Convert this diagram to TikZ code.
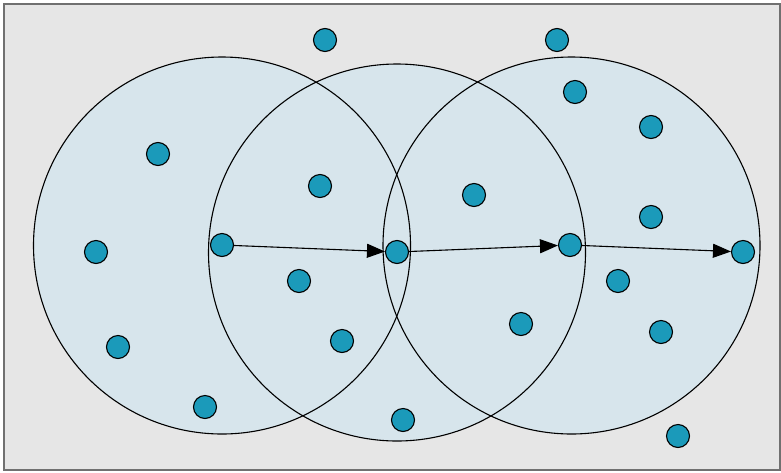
\documentclass[tikz,border=0pt]{standalone}
\usepackage{tikz}
\usetikzlibrary{arrows.meta, positioning}
\definecolor{bgGray}{RGB}{230,230,230}
\definecolor{frameGray}{RGB}{112,112,112}
\definecolor{zoneBlue}{RGB}{215,229,236}
\definecolor{dotTeal}{RGB}{27,154,186}

\begin{document}
\begin{tikzpicture}[
  x=1pt, y=-1pt,
  dot/.style={
    circle, draw=black, fill=dotTeal,
    minimum size=23pt, inner sep=0pt, line width=1.1pt
  },
  hop/.style={-{Triangle[length=18pt, width=14pt]}, line width=1.1pt, black},
  zone/.style={draw=black, line width=1.1pt}
]
  \useasboundingbox (0,0) rectangle (781,472);
  \draw[frameGray, fill=bgGray, line width=1.3pt] (4,4) rectangle (780,470);

  % coverage zones
  \foreach \x/\y in {222/245.5, 397/252.5, 571.5/245.5}
    \fill[zoneBlue] (\x,\y) circle (188.5);
  \foreach \x/\y in {222/245.5, 397/252.5, 571.5/245.5}
    \draw[zone] (\x,\y) circle (188.5);

  % nodes
  \foreach \n/\x/\y in {
    a/325/40, b/557/40, c/575/92, d/651/127, e/158/154,
    f/320/186, g/474/195, h/651/217, i/96/252, j/299/281,
    k/618/281, l/118/347, m/342/341, n/521/324, o/661/332,
    p/205/407, q/403/420, r/678/436,
    s1/222/245, s2/397/252, s3/570/245, s4/743/252}
    \node[dot] (\n) at (\x,\y) {};

  \foreach \a/\b in {s1/s2, s2/s3, s3/s4}
    \draw[hop] (\a) -- (\b);
\end{tikzpicture}
\end{document}
